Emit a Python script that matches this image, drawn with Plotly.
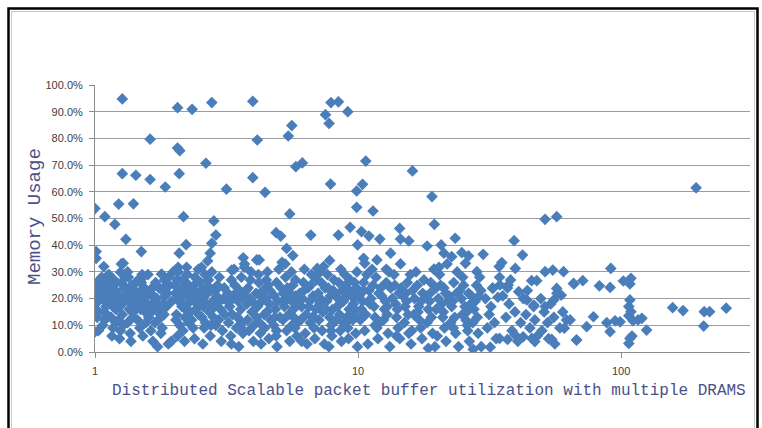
import plotly.graph_objects as go

# ---------------- data (x = multiplicity, y = memory usage %) ----------------
high_points = [
    [1.27, 94.8], [2.06, 91.5], [2.34, 90.9], [2.78, 93.4], [3.98, 93.9], [1.62, 79.7],
    [2.06, 76.4], [2.10, 75.4], [4.14, 79.4], [2.64, 70.7], [1.27, 66.8], [1.43, 66.2],
    [1.62, 64.6], [2.09, 66.8], [3.98, 65.3], [1.85, 61.8], [3.16, 61.0], [1.23, 55.4],
    [1.40, 55.5], [1.00, 53.7], [1.09, 50.7], [2.17, 50.7], [7.89, 93.4], [8.42, 93.7],
    [7.52, 88.9], [9.14, 90.0], [7.76, 85.6], [5.60, 84.8], [5.43, 80.9], [5.80, 69.4],
    [6.14, 70.8], [10.7, 71.5], [16.1, 67.8], [4.43, 59.8], [7.86, 62.9], [10.4, 62.8],
    [9.88, 60.3], [9.88, 54.2], [11.4, 52.8], [5.50, 51.7], [19.1, 58.2], [51.4, 49.7],
    [56.9, 50.7], [192.8, 61.5],
]

mid_points = [
    [1.19, 47.8], [2.83, 49.1], [1.31, 42.2], [2.88, 43.8], [2.78, 40.7], [2.22, 40.2],
    [2.09, 37.0], [1.01, 37.6], [1.50, 37.6], [1.01, 35.1], [2.74, 37.0], [2.68, 34.1],
    [1.28, 33.2], [1.08, 32.0], [2.07, 31.7], [2.23, 31.7], [2.54, 31.7], [3.66, 35.3],
    [4.12, 34.5], [3.31, 30.7], [3.70, 31.7], [1.79, 29.2], [1.25, 29.9], [1.12, 28.7],
    [1.53, 28.2], [9.33, 46.7], [4.88, 44.7], [5.08, 43.4], [6.61, 43.8], [8.42, 43.8],
    [10.3, 45.1], [11.0, 43.4], [12.1, 42.3], [14.4, 46.3], [14.5, 42.3], [15.6, 41.6],
    [9.96, 40.1], [13.3, 37.0], [5.35, 38.8], [5.65, 36.1], [4.21, 34.5], [7.80, 34.3],
    [5.14, 33.6], [10.5, 35.1], [10.6, 33.2], [11.8, 34.5], [12.8, 31.0], [7.00, 31.3],
    [7.10, 29.5], [19.5, 47.8], [18.3, 39.7], [23.4, 42.6], [20.7, 40.1], [39.2, 41.7],
    [24.8, 37.2], [26.3, 36.0], [29.9, 36.6], [42.2, 36.3], [21.2, 37.0], [22.7, 35.7],
    [35.2, 33.5], [34.4, 32.0], [39.6, 31.3], [19.5, 31.0], [20.3, 31.7], [25.6, 33.2],
    [28.3, 30.1], [51.4, 30.1], [55.0, 30.7], [60.4, 30.1], [91.4, 31.3],
]

band_1_2 = [
    [1.00, 18], [1.01, 21], [1.00, 24], [1.02, 26], [1.03, 19], [1.01, 16], [1.04, 23],
    [1.00, 7.5], [1.03, 8], [1.02, 13], [1.05, 22], [1.04, 27], [1.07, 20], [1.08, 25],
    [1.10, 17], [1.09, 12], [1.06, 28], [1.11, 22], [1.08, 15], [1.12, 19], [1.10, 26],
    [1.07, 10], [1.12, 24], [1.14, 21], [1.16, 18], [1.18, 27], [1.15, 13], [1.19, 23],
    [1.17, 9], [1.20, 16], [1.14, 25], [1.18, 20], [1.16, 6], [1.20, 11], [1.13, 29],
    [1.22, 22], [1.24, 17], [1.26, 26], [1.23, 12], [1.28, 20], [1.25, 8], [1.29, 24],
    [1.27, 14], [1.21, 19], [1.30, 28], [1.24, 5], [1.28, 10], [1.26, 33], [1.32, 21],
    [1.35, 16], [1.38, 25], [1.33, 11], [1.40, 19], [1.36, 7], [1.41, 23], [1.34, 28],
    [1.39, 13], [1.37, 4], [1.42, 17], [1.33, 30], [1.44, 22], [1.47, 18], [1.50, 26],
    [1.45, 12], [1.53, 20], [1.48, 9], [1.55, 15], [1.46, 27], [1.52, 6], [1.49, 23],
    [1.56, 11], [1.51, 29], [1.58, 21], [1.62, 17], [1.65, 24], [1.60, 13], [1.68, 19],
    [1.63, 8], [1.70, 26], [1.59, 29], [1.66, 4], [1.64, 15], [1.69, 11], [1.72, 20],
    [1.76, 16], [1.80, 23], [1.74, 12], [1.82, 18], [1.78, 7], [1.84, 27], [1.73, 2],
    [1.80, 9], [1.77, 14], [1.85, 21], [1.88, 22], [1.92, 25], [1.96, 19], [1.90, 28],
    [1.98, 30], [1.87, 17], [1.95, 4], [1.90, 3],
    [1.02, 15], [1.05, 25], [1.09, 21], [1.11, 14], [1.15, 24], [1.17, 17], [1.21, 26],
    [1.23, 21], [1.27, 18], [1.31, 24], [1.34, 19], [1.37, 22], [1.40, 15], [1.43, 26],
    [1.46, 21], [1.49, 16], [1.54, 24], [1.57, 18], [1.61, 22], [1.67, 21], [1.71, 17],
    [1.75, 24], [1.83, 14], [1.86, 25],
]

band_2_3 = [
    [2.02, 22], [2.05, 27], [2.08, 19], [2.04, 14], [2.10, 10], [2.07, 30], [2.12, 24],
    [2.06, 6], [2.14, 17], [2.03, 12], [2.18, 21], [2.22, 26], [2.20, 13], [2.25, 18],
    [2.16, 8], [2.28, 23], [2.24, 29], [2.19, 4], [2.27, 11], [2.30, 15], [2.34, 20],
    [2.38, 25], [2.36, 9], [2.42, 16], [2.40, 28], [2.33, 12], [2.45, 22], [2.39, 5],
    [2.44, 18], [2.47, 31], [2.50, 21], [2.55, 13], [2.52, 26], [2.58, 17], [2.60, 9],
    [2.53, 23], [2.62, 29], [2.57, 3], [2.63, 11], [2.49, 19], [2.68, 22], [2.72, 15],
    [2.70, 27], [2.76, 10], [2.80, 19], [2.74, 6], [2.66, 24], [2.82, 13], [2.78, 30],
    [2.85, 17], [2.90, 21], [2.95, 12], [2.92, 25], [3.00, 16], [3.05, 8], [2.97, 28],
    [3.08, 20], [3.02, 4], [3.10, 24], [2.88, 10], [3.12, 14],
    [2.01, 25], [2.11, 20], [2.15, 27], [2.21, 16], [2.26, 21], [2.32, 23], [2.41, 20],
    [2.48, 14], [2.56, 20], [2.65, 18], [2.73, 24], [2.87, 23], [2.98, 19],
]

band_3_10 = [
    [3.20, 22], [3.25, 17], [3.30, 27], [3.22, 11], [3.35, 20], [3.28, 6], [3.40, 25],
    [3.33, 14], [3.38, 31], [3.45, 9], [3.50, 19], [3.55, 23], [3.48, 13], [3.60, 28],
    [3.58, 16], [3.65, 7], [3.52, 2], [3.68, 21], [3.62, 11], [3.70, 33], [3.78, 18],
    [3.82, 24], [3.80, 12], [3.90, 27], [3.85, 8], [3.95, 15], [3.88, 20], [4.00, 4],
    [3.92, 30], [4.02, 10], [4.10, 22], [4.15, 17], [4.20, 26], [4.12, 13], [4.25, 7],
    [4.30, 19], [4.18, 29], [4.28, 3], [4.35, 23], [4.22, 11], [4.45, 20], [4.50, 15],
    [4.55, 25], [4.42, 9], [4.60, 18], [4.52, 30], [4.65, 12], [4.58, 5], [4.70, 22],
    [4.48, 27], [4.80, 21], [4.85, 16], [4.90, 26], [4.78, 10], [4.95, 19], [5.00, 31],
    [4.88, 6], [5.05, 13], [5.10, 24], [4.92, 2], [5.20, 22], [5.25, 17], [5.30, 28],
    [5.18, 12], [5.35, 8], [5.40, 20], [5.28, 33], [5.45, 14], [5.38, 24], [5.50, 4],
    [5.60, 19], [5.65, 25], [5.70, 13], [5.58, 30], [5.75, 9], [5.80, 21], [5.68, 16],
    [5.85, 6], [5.78, 27], [5.90, 11], [6.00, 22], [6.10, 17], [6.20, 26], [6.05, 12],
    [6.30, 7], [6.15, 20], [6.25, 31], [6.35, 14], [6.40, 3], [6.45, 24], [6.55, 19],
    [6.60, 25], [6.70, 13], [6.65, 29], [6.80, 9], [6.75, 21], [6.90, 16], [6.85, 5],
    [6.95, 27], [6.58, 11], [7.05, 22], [7.15, 18], [7.25, 26], [7.10, 12], [7.30, 8],
    [7.20, 20], [7.40, 32], [7.35, 15], [7.45, 3], [7.50, 24], [7.60, 19], [7.70, 24],
    [7.80, 13], [7.65, 29], [7.90, 10], [7.85, 21], [8.00, 16], [7.95, 6], [8.10, 27],
    [7.75, 2], [8.20, 22], [8.35, 17], [8.45, 26], [8.30, 12], [8.55, 8], [8.40, 20],
    [8.60, 31], [8.50, 14], [8.65, 4], [8.70, 23], [8.80, 19], [8.95, 25], [9.05, 13],
    [8.90, 29], [9.15, 9], [9.10, 21], [9.25, 16], [9.20, 5], [9.35, 27], [9.00, 11],
    [9.45, 22], [9.60, 18], [9.70, 26], [9.55, 12], [9.80, 7], [9.65, 20], [9.90, 30],
    [9.75, 14], [9.95, 2], [9.85, 24],
    [3.18, 19], [3.42, 22], [3.56, 20], [3.75, 23], [4.05, 18], [4.26, 21], [4.62, 23],
    [4.82, 13], [5.15, 19], [5.52, 22], [5.95, 18], [6.22, 23], [6.50, 17], [7.00, 20],
    [7.55, 16], [8.05, 23], [8.50, 18], [9.30, 23], [9.70, 16], [3.60, 9], [4.40, 14],
    [5.60, 10], [6.80, 13], [7.90, 8], [8.80, 11], [4.90, 8], [3.30, 3], [6.10, 4],
]

band_10_30 = [
    [10.1, 21], [10.3, 16], [10.5, 26], [10.2, 12], [10.6, 8], [10.4, 19], [10.8, 29],
    [10.7, 14], [10.9, 3], [11.0, 23], [11.2, 20], [11.4, 25], [11.6, 13], [11.3, 31],
    [11.8, 9], [11.5, 17], [11.9, 5], [12.0, 22], [11.7, 28], [12.1, 11], [12.3, 21],
    [12.6, 16], [12.8, 26], [12.5, 12], [13.0, 7], [12.7, 19], [13.1, 30], [12.9, 14],
    [13.2, 2], [13.3, 24], [13.5, 20], [13.8, 25], [14.0, 13], [13.7, 29], [14.2, 9],
    [13.9, 18], [14.4, 5], [14.3, 22], [14.1, 16], [14.5, 33], [14.8, 21], [15.1, 17],
    [15.4, 26], [15.0, 11], [15.6, 7], [15.3, 19], [15.8, 29], [15.5, 14], [15.9, 3],
    [16.1, 23], [16.4, 20], [16.8, 25], [17.1, 12], [16.6, 30], [17.3, 9], [17.0, 17],
    [17.5, 5], [17.6, 22], [16.9, 15], [17.8, 27], [18.1, 21], [18.5, 16], [18.9, 26],
    [18.3, 11], [19.2, 7], [18.7, 19], [19.4, 31], [19.0, 13], [19.6, 2], [19.8, 24],
    [20.2, 20], [20.6, 25], [21.0, 13], [20.4, 29], [21.3, 9], [20.8, 18], [21.6, 4],
    [21.5, 22], [21.1, 15], [21.8, 33], [22.2, 21], [22.7, 17], [23.1, 26], [22.5, 11],
    [23.5, 7], [22.9, 19], [23.8, 30], [23.3, 13], [24.1, 2], [24.3, 23], [24.7, 20],
    [25.2, 25], [25.7, 12], [25.0, 28], [26.1, 8], [25.5, 17], [26.5, 4], [26.3, 22],
    [25.9, 15], [27.0, 21], [27.6, 16], [28.2, 25], [27.3, 11], [28.6, 7], [27.9, 19],
    [29.0, 28], [28.4, 13], [29.4, 2], [29.3, 23], [18.5, 1.4], [27.4, 1.0],
    [10.5, 23], [11.1, 18], [12.2, 24], [12.9, 17], [14.6, 24], [15.2, 22], [16.3, 14],
    [17.4, 19], [18.8, 22], [19.8, 16], [21.2, 24], [22.0, 19], [23.7, 22], [24.9, 14],
    [26.8, 18], [28.8, 21], [11.6, 10], [14.0, 6], [16.0, 8], [20.0, 6], [23.0, 9],
    [26.0, 10],
]

band_30_plus = [
    [30.5, 20], [31.5, 14], [32.5, 24], [31.0, 9], [33.5, 5], [32.0, 17], [34.5, 28],
    [33.0, 11], [35.5, 21], [36.5, 13], [37.5, 18], [38.5, 8], [37.0, 24], [39.5, 15],
    [40.5, 4], [38.0, 27], [41.5, 11], [42.5, 20], [43.5, 14], [45.0, 9], [44.0, 23],
    [46.5, 17], [48.0, 6], [47.0, 12], [49.5, 20], [51.0, 15], [50.0, 8], [52.5, 11],
    [54.0, 18], [53.0, 5], [55.5, 13], [57.0, 22], [58.5, 9], [60.0, 15], [56.0, 3],
    [65.9, 25.7], [45.7, 26.7], [47.8, 26.7], [56.9, 23.8], [59.2, 21.3], [55.5, 19.5],
    [37.2, 25.1], [34.6, 25.1], [40.8, 22.6], [32.5, 23.8], [34.0, 20.5], [43.8, 19.5],
    [46.6, 17.6], [51.4, 17.0], [62.0, 12.0], [60.8, 8.9], [67.8, 4.5], [54.5, 4.7],
    [31.8, 1.8], [34.5, 5.1], [37.0, 4.7], [39.5, 6.4], [42.4, 5.7], [45.8, 5.1],
    [47.0, 3.9], [66.2, 25.5], [71.5, 26.7], [82.7, 24.8], [90.8, 24.2], [102, 26.6],
    [109, 27.6], [108, 25.5], [108, 19.5], [107, 17.0], [109, 15.1], [107, 13.6],
    [78.5, 13.2], [88.2, 11.0], [94.9, 11.7], [99.1, 11.3], [111, 11.7], [116, 12.0],
    [120, 12.6], [90.8, 7.6], [125, 8.2], [67.6, 4.5], [110, 6.0], [108, 5.1],
    [107, 3.2], [157, 16.6], [172, 15.5], [207, 15.1], [217, 15.1], [206, 9.7],
    [251, 16.4], [64.0, 12.0], [74.0, 9.5],
]

groups = [high_points, mid_points, band_1_2, band_2_3, band_3_10, band_10_30, band_30_plus]
xs = [p[0] for g in groups for p in g]
ys = [p[1] / 100.0 for g in groups for p in g]

x_tick_vals = [1, 10, 100]
x_tick_text = ["1", "10", "100"]
x_title = "Distributed Scalable packet buffer utilization with multiple DRAMS"
y_title = "Memory Usage"

# ---------------- figure ----------------
W, H = 762, 428
L, R, T, B = 95, 12, 85, 76
pw, ph = W - L - R, H - T - B


def px_x(p):
    return (p - L) / pw


def px_y(p):
    return (H - B - p) / ph


fig = go.Figure()
fig.add_trace(go.Scatter(
    x=xs, y=ys, mode="markers",
    marker=dict(symbol="diamond", size=9, color="#4a7ebb", line=dict(width=0)),
    hoverinfo="x+y", showlegend=False,
))

tick_font = dict(family="Liberation Sans, Arial, sans-serif", size=11, color="#404040")
fig.update_layout(
    width=W, height=H,
    margin=dict(l=L, r=R, t=T, b=B),
    paper_bgcolor="white", plot_bgcolor="white",
    xaxis=dict(
        type="log", range=[0, 2.49],
        tickvals=x_tick_vals, ticktext=x_tick_text,
        showgrid=False, zeroline=False,
        showline=True, linecolor="#8c8c8c", linewidth=1,
        ticks="outside", ticklen=5, tickcolor="#8c8c8c",
        ticklabelstandoff=4,
        tickfont=tick_font,
    ),
    yaxis=dict(
        range=[0, 1], dtick=0.1, tick0=0, tickformat=".1%",
        showgrid=True, gridcolor="#9c9c9c", gridwidth=1,
        zeroline=False,
        showline=True, linecolor="#8c8c8c", linewidth=1,
        ticks="outside", ticklen=5, tickcolor="#8c8c8c",
        ticklabelstandoff=4,
        tickfont=tick_font,
    ),
    shapes=[
        dict(type="rect", xref="paper", yref="paper",
             x0=px_x(8.5), x1=px_x(757.5), y0=px_y(440), y1=px_y(8.5),
             line=dict(color="black", width=2.5), fillcolor="rgba(0,0,0,0)", layer="below"),
        dict(type="rect", xref="paper", yref="paper",
             x0=px_x(11.5), x1=px_x(754.5), y0=px_y(440), y1=px_y(11.5),
             line=dict(color="#c8c8c8", width=1), fillcolor="rgba(0,0,0,0)", layer="below"),
    ],
    annotations=[
        dict(text=x_title, xref="paper", yref="paper",
             x=px_x(429), y=px_y(391), xanchor="center", yanchor="middle",
             showarrow=False,
             font=dict(family="Liberation Mono, Courier New, monospace", size=16, color="#4b5089")),
        dict(text=y_title, xref="paper", yref="paper",
             x=px_x(35), y=px_y(217), xanchor="center", yanchor="middle",
             textangle=-90, showarrow=False,
             font=dict(family="Liberation Mono, Courier New, monospace", size=19, color="#4b5089")),
    ],
)

fig.write_html("out.html", config={"displayModeBar": False},
               post_script="document.body.style.margin='0';")
